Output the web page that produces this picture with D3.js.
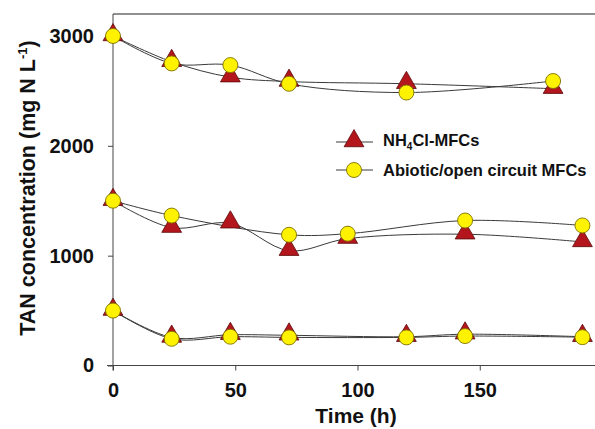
<!DOCTYPE html>
<html>
<head>
<meta charset="utf-8">
<script src="https://cdn.jsdelivr.net/npm/d3@7"></script>
<style>
  body { margin: 0; background: #fff; }
  text { font-family: Arial, "Liberation Sans", sans-serif; font-weight: bold; fill: #111; }
</style>
</head>
<body>
<script>
// data (time in h, TAN in mg N/L)
var nh4Top = [[0, 3000], [24, 2765], [48, 2625], [72, 2585], [120, 2565], [180, 2520]];
var abioTop = [[0, 3000], [24, 2750], [48, 2735], [72, 2565], [120, 2485], [180, 2590]];
var nh4Mid = [[0, 1500], [24, 1255], [48, 1295], [72, 1045], [96, 1155], [144, 1195], [192, 1125]];
var abioMid = [[0, 1500], [24, 1365], [72, 1190], [96, 1200], [144, 1320], [192, 1275]];
var nh4Low = [[0, 500], [24, 255], [48, 280], [72, 275], [120, 262], [144, 285], [192, 262]];
var abioLow = [[0, 500], [24, 243], [48, 262], [72, 256], [120, 256], [144, 268], [192, 258]];

var xTicks = [0, 50, 100, 150];
var yTicks = [0, 1000, 2000, 3000];

var width = 595, height = 429;
var margin = {top: 14, left: 113, right: -7, bottom: 64};

var svg = d3.select("body").append("svg")
    .attr("width", width)
    .attr("height", height);

var xScale = d3.scaleLinear()
    .domain([0, 200])
    .range([margin.left, width - margin.right]);

var yScale = d3.scaleLinear()
    .domain([0, 3200])
    .range([height - margin.bottom + 0.5, margin.top]);

// frame: top line + axes
svg.append("line")
    .attr("x1", margin.left).attr("x2", width)
    .attr("y1", margin.top).attr("y2", margin.top)
    .attr("stroke", "#222").attr("stroke-width", 1.2);

var xAxis = d3.axisBottom(xScale).tickValues(xTicks).tickFormat(d3.format("d"))
    .tickSize(5).tickSizeOuter(0).tickPadding(12);
var yAxis = d3.axisLeft(yScale).tickValues(yTicks).tickFormat(d3.format("d"))
    .tickSize(5).tickSizeOuter(0).tickPadding(14);

var gx = svg.append("g")
    .attr("transform", "translate(0," + yScale(0) + ")")
    .call(xAxis);
gx.select(".domain").attr("d", "M" + (margin.left - 6) + ",0H" + width);

var gy = svg.append("g")
    .attr("transform", "translate(" + margin.left + ",0)")
    .call(yAxis);
gy.select(".domain").attr("d", "M0," + margin.top + "V" + (yScale(0) + 5));

[gx, gy].forEach(function(g) {
    g.selectAll("path, line").attr("stroke", "#444").attr("stroke-width", 1);
    g.selectAll("text")
        .style("font-size", "20px")
        .style("font-weight", "bold")
        .attr("fill", "#111");
});

// axis labels
svg.append("text")
    .attr("x", 356)
    .attr("y", 423)
    .attr("text-anchor", "middle")
    .style("font-size", "21px")
    .text("Time (h)");

var ylab = svg.append("text")
    .attr("transform", "translate(35,188) rotate(-90)")
    .attr("text-anchor", "middle")
    .style("font-size", "21.5px");
ylab.append("tspan").text("TAN concentration (mg N L");
ylab.append("tspan").attr("dy", -8).style("font-size", "13px").text("-1");
ylab.append("tspan").attr("dy", 8).text(")");

var line = d3.line()
    .x(function(d) { return xScale(d[0]); })
    .y(function(d) { return yScale(d[1]); })
    .curve(d3.curveCatmullRom.alpha(0.5));

var nh4Sets = [nh4Top, nh4Mid, nh4Low];
var abioSets = [abioTop, abioMid, abioLow];

nh4Sets.concat(abioSets).forEach(function(s) {
    svg.append("path")
        .attr("d", line(s))
        .attr("fill", "none")
        .attr("stroke", "#3a3a3a")
        .attr("stroke-width", 1);
});

var tri = d3.symbol().type(d3.symbolTriangle).size(170);
var triFill = "#b3161c", triStroke = "#5c0a0a";
var cirFill = "#fff200", cirStroke = "#7d7000";

nh4Sets.forEach(function(s) {
    svg.selectAll(null)
        .data(s)
        .enter()
        .append("path")
        .attr("d", tri)
        .attr("transform", function(d) { return "translate(" + xScale(d[0]) + "," + (yScale(d[1]) - 1) + ")"; })
        .attr("fill", triFill)
        .attr("stroke", triStroke)
        .attr("stroke-width", 0.8);
});

abioSets.forEach(function(s) {
    svg.selectAll(null)
        .data(s)
        .enter()
        .append("circle")
        .attr("cx", function(d) { return xScale(d[0]); })
        .attr("cy", function(d) { return yScale(d[1]); })
        .attr("r", 7.5)
        .attr("fill", cirFill)
        .attr("stroke", cirStroke)
        .attr("stroke-width", 0.9);
});

// legend
var legend = svg.append("g");
legend.append("line")
    .attr("x1", 336).attr("x2", 373).attr("y1", 142).attr("y2", 142)
    .attr("stroke", "#3a3a3a");
legend.append("path")
    .attr("d", tri)
    .attr("transform", "translate(354,141)")
    .attr("fill", triFill).attr("stroke", triStroke).attr("stroke-width", 0.8);
var lt = legend.append("text")
    .attr("x", 383).attr("y", 146)
    .style("font-size", "16.5px");
lt.append("tspan").text("NH");
lt.append("tspan").attr("dy", 4).style("font-size", "10px").text("4");
lt.append("tspan").attr("dy", -4).text("Cl-MFCs");

legend.append("line")
    .attr("x1", 336).attr("x2", 373).attr("y1", 170).attr("y2", 170)
    .attr("stroke", "#3a3a3a");
legend.append("circle")
    .attr("cx", 354).attr("cy", 170).attr("r", 7.5)
    .attr("fill", cirFill).attr("stroke", cirStroke).attr("stroke-width", 0.9);
legend.append("text")
    .attr("x", 383).attr("y", 176)
    .style("font-size", "16.5px")
    .text("Abiotic/open circuit MFCs");
</script>
</body>
</html>
